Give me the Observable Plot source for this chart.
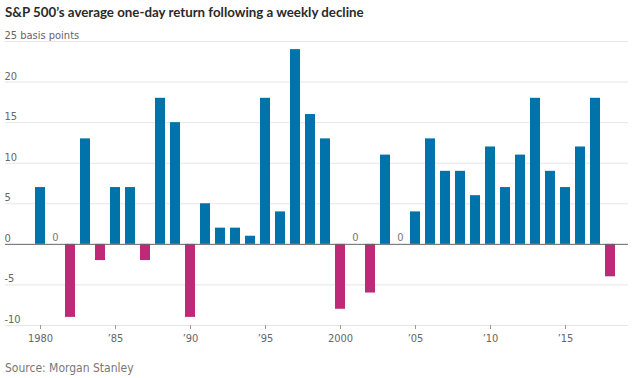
<!DOCTYPE html>
<html>
<head>
<meta charset="utf-8">
<script src="https://cdn.jsdelivr.net/npm/d3@7"></script>
<script src="https://cdn.jsdelivr.net/npm/@observablehq/plot@0.6"></script>
<style>
  html, body { margin: 0; padding: 0; background: #fff; }
  #wrap { width: 640px; height: 378px; position: relative; overflow: hidden; }
  #title { font-family: Lato, "Noto Sans", sans-serif; font-weight: 700; font-size: 13.3px; color: #2a2a2a; line-height: 24px; height: 24px; padding-left: 5px; white-space: nowrap; }
  #caption { font-family: "Liberation Sans Narrow", "DejaVu Sans Condensed", sans-serif; font-size: 12px; color: #777; line-height: 14px; padding-top: 7px; padding-left: 5px; }
  svg { display: block; }
</style>
</head>
<body>
<div id="wrap">
  <div id="title">S&amp;P 500’s average one-day return following a weekly decline</div>
  <div id="chart"></div>
  <div id="caption">Source: Morgan Stanley</div>
</div>
<script>
const years = d3.range(1980, 2019);
const values = [7, 0, -9, 13, -2, 7, 7, -2, 18, 15, -9, 5, 2, 2, 1, 18, 4, 24, 16, 13,
                -8, 0, -6, 11, 0, 4, 13, 9, 9, 6, 12, 7, 11, 18, 9, 7, 12, 18, -4];
const yTicks = [-10, -5, 0, 5, 10, 15, 20, 25];
const xTicks = [1980, 1985, 1990, 1995, 2000, 2005, 2010, 2015];
const xTickLabels = ["1980", "’85", "’90", "’95", "2000", "’05", "’10", "’15"];

const data = years.map((y, i) => ({year: y, value: values[i]}));
const tickFont = "'Liberation Sans Narrow', 'DejaVu Sans Condensed', sans-serif";

const chart = Plot.plot({
  width: 640,
  height: 330,
  marginTop: 17,
  marginBottom: 29,
  marginLeft: 5,
  marginRight: 12,
  style: {fontFamily: tickFont, fontSize: "11px", color: "#666", background: "#fff"},
  x: {type: "band", domain: years, range: [30, 620], paddingInner: 0.33, paddingOuter: 0.33, label: null},
  y: {domain: [-10, 25], label: null},
  marks: [
    Plot.ruleY(yTicks.filter(d => d !== 0), {stroke: "#e6e6e6", strokeWidth: 1}),
    Plot.barY(data, {x: "year", y: "value", fill: d => d.value < 0 ? "#BF2A78" : "#0073AB"}),
    Plot.ruleY([0], {stroke: "#666", strokeWidth: 1}),
    Plot.text(data.filter(d => d.value === 0), {x: "year", y: "value", text: d => "0", dy: -7, fill: "#777", fontSize: 11}),
    Plot.axisY({ticks: yTicks, tickSize: 0, textAnchor: "start", dx: 8, dy: -6,
      tickFormat: d => d === 25 ? "25 basis points" : String(d), fill: "#666", label: null}),
    Plot.axisX({ticks: xTicks, tickSize: 4, tickPadding: 5, stroke: "#999",
      tickFormat: d => xTickLabels[xTicks.indexOf(d)], fill: "#666", label: null})
  ]
});
document.getElementById("chart").appendChild(chart);
</script>
</body>
</html>
